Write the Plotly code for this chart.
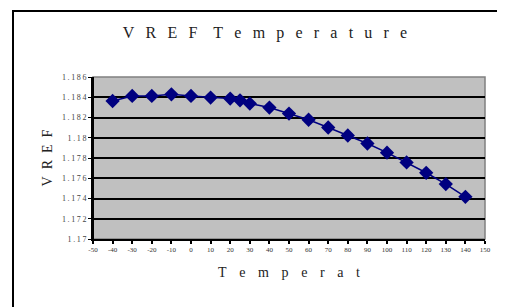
import plotly.graph_objects as go

temperature = [-40, -30, -20, -10, 0, 10, 20, 25, 30, 40, 50, 60, 70, 80, 90, 100, 110, 120, 130, 140]
vref = [1.18363, 1.18413, 1.18413, 1.18429, 1.18413, 1.18397, 1.18387, 1.18370, 1.18338, 1.18298,
        1.18239, 1.18178, 1.18101, 1.18022, 1.17943, 1.17853, 1.17756, 1.17654, 1.17542, 1.17417]

x_ticks = list(range(-50, 151, 10))
x_ticktext = [str(v) for v in x_ticks]
y_ticks = [1.170, 1.172, 1.174, 1.176, 1.178, 1.180, 1.182, 1.184, 1.186]
y_ticklabels = ["1.17", "1.172", "1.174", "1.176", "1.178", "1.18", "1.182", "1.184", "1.186"]

title_words = ["VREF", "Temperature"]
x_title_word = "Temperat"
y_title_word = "VREF"

EN = "\u2002"
THIN = "\u2009"


def spaced(word, sep):
    return sep.join(list(word))


title_text = (EN * 2).join(spaced(w, EN + THIN) for w in title_words)
x_title = spaced(x_title_word, EN + THIN + THIN)
y_title = spaced(y_title_word, EN)
y_ticktext = [spaced(t, THIN) for t in y_ticklabels]

serif = "Liberation Serif, Times New Roman, serif"

# page body has an 8px default margin; work in screenshot pixels and shift
OFF = 8
W, H = 505 - OFF, 307 - OFF
PL, PR, PT, PB = 93, 485, 77, 239  # plot area in screenshot pixels
L, R, T, B = PL - OFF, W - (PR - OFF), PT - OFF, H - (PB - OFF)
pw = PR - PL
ph = PB - PT


def px(x):
    return (x - PL) / pw


def py(y):
    return (PB - y) / ph


fig = go.Figure()
fig.add_trace(go.Scatter(
    x=temperature, y=vref, mode="lines+markers",
    line=dict(color="#000080", width=1.5),
    marker=dict(symbol="diamond", size=11, color="#000080"),
    showlegend=False,
))

fig.update_layout(
    width=W, height=H,
    margin=dict(l=L, r=R, t=T, b=B),
    paper_bgcolor="white",
    plot_bgcolor="#C0C0C0",
    font=dict(family=serif, color="#222222"),
    title=dict(text=title_text, x=px(265), xref="paper", xanchor="center",
               y=1 - (32 - OFF) / H, yanchor="middle",
               font=dict(size=16, family=serif, color="#222222")),
    xaxis=dict(
        range=[-50, 150], tickvals=x_ticks, ticktext=x_ticktext,
        tickfont=dict(size=7, family=serif, color="#333333"),
        showgrid=False, zeroline=False,
        showline=True, linecolor="black", linewidth=2,
        ticks="outside", ticklen=3, tickcolor="black", tickwidth=1.5,
        title=dict(text=x_title, font=dict(size=14, family=serif, color="#222222"), standoff=14),
    ),
    yaxis=dict(
        range=[1.170, 1.186], tickvals=y_ticks, ticktext=y_ticktext,
        tickfont=dict(size=8, family=serif, color="#444444"),
        showgrid=True, gridcolor="black", gridwidth=1.5, zeroline=False,
        showline=True, linecolor="black", linewidth=2,
        ticks="outside", ticklen=3, tickcolor="black",
        title=dict(text=y_title, font=dict(size=14, family=serif, color="#222222"), standoff=6),
    ),
    shapes=[
        dict(type="rect", xref="paper", yref="paper", x0=0, x1=1, y0=0, y1=1,
             line=dict(color="#808080", width=1.5), layer="below"),
        dict(type="line", xref="paper", yref="paper", x0=0, x1=0, y0=0, y1=1,
             line=dict(color="black", width=2)),
        dict(type="rect", xref="paper", yref="paper",
             x0=px(13), x1=px(520), y0=py(325), y1=py(11),
             line=dict(color="black", width=2), fillcolor="rgba(0,0,0,0)"),
    ],
)

fig.write_html("out.html")
